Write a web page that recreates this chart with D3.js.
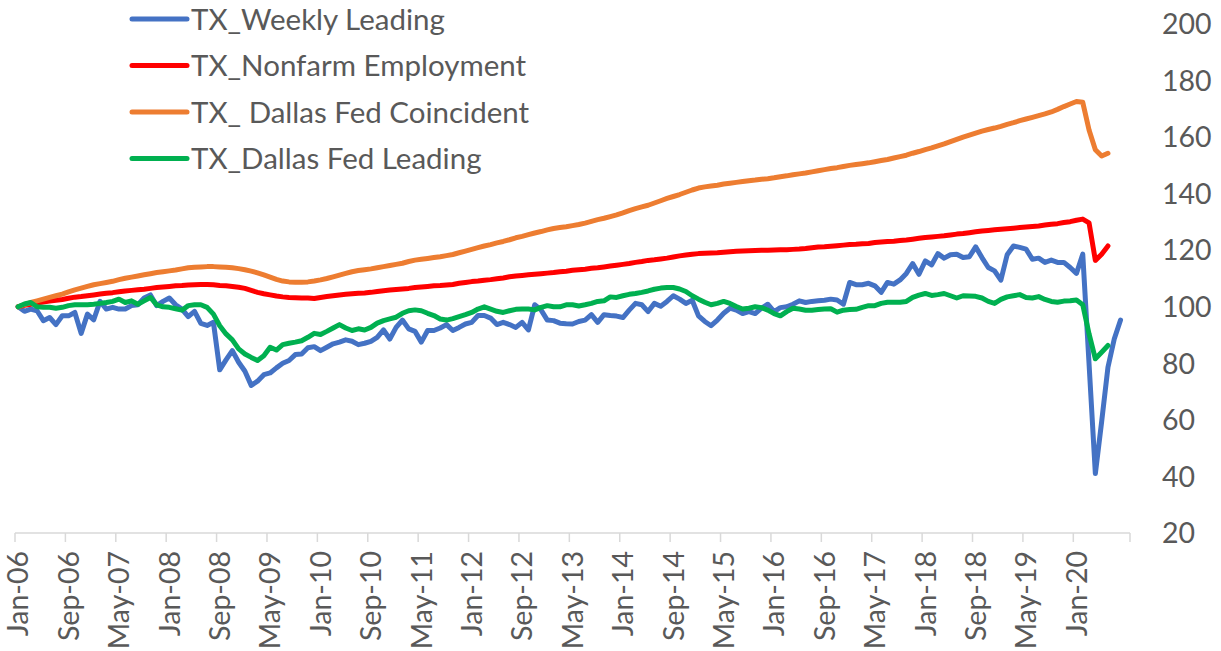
<!DOCTYPE html>
<html>
<head>
<meta charset="utf-8">
<script src="https://cdn.jsdelivr.net/npm/d3@7"></script>
<style>
  body { margin: 0; background: #fff; }
  text { font-family: Lato, "Open Sans", sans-serif; fill: #595959; }
</style>
</head>
<body>
<div id="lineChart"></div>
<script>
// data: monthly, Jan-06 .. Aug-20
var startMonth = new Date(2006, 0, 1);
var endMonth = new Date(2020, 8, 1);

var tickLabels = ["Jan-06", "Sep-06", "May-07", "Jan-08", "Sep-08", "May-09", "Jan-10", "Sep-10",
  "May-11", "Jan-12", "Sep-12", "May-13", "Jan-14", "Sep-14", "May-15", "Jan-16", "Sep-16",
  "May-17", "Jan-18", "Sep-18", "May-19", "Jan-20"];

var yTicks = [20, 40, 60, 80, 100, 120, 140, 160, 180, 200];

var seriesNames = ["TX_Weekly Leading", "TX_Nonfarm Employment", "TX_ Dallas Fed Coincident", "TX_Dallas Fed Leading"];
var seriesColors = ["#4472C4", "#FF0000", "#ED7D31", "#00B050"];

var weeklyLeading = [
  100.0, 98.4, 99.2, 98.6, 95.1, 96.2, 93.7, 96.8, 96.8, 98.0, 90.6, 97.4, 95.4, 101.9, 99.2, 99.8,
  99.2, 99.2, 100.4, 100.7, 103.1, 104.2, 100.4, 101.9, 103.1, 100.7, 99.2, 96.5, 98.4, 94.1, 93.4, 94.5,
  77.7, 81.2, 84.5, 80.4, 77.2, 72.2, 73.7, 76.0, 76.6, 78.4, 80.0, 81.0, 83.1, 83.3, 85.5, 85.9,
  84.5, 85.7, 86.9, 87.5, 88.3, 87.8, 86.6, 87.1, 87.8, 89.2, 91.8, 88.6, 92.7, 95.3, 92.2, 91.3,
  87.5, 91.6, 91.6, 92.5, 93.7, 91.6, 92.7, 93.9, 94.5, 96.9, 96.9, 96.0, 93.7, 94.5, 93.7, 92.7,
  94.5, 91.8, 100.7, 98.9, 95.3, 95.1, 94.2, 94.0, 93.9, 94.8, 95.3, 97.2, 94.5, 97.2, 96.9, 96.7,
  96.2, 98.8, 101.2, 100.7, 98.3, 101.2, 100.2, 101.9, 103.9, 102.7, 101.2, 102.3, 96.8, 94.8, 93.3, 95.3,
  97.7, 99.5, 98.8, 97.6, 98.3, 97.6, 99.5, 100.9, 98.3, 99.7, 100.0, 100.9, 102.1, 101.5, 101.9, 102.1,
  102.3, 102.7, 102.4, 100.9, 108.6, 107.8, 107.8, 108.3, 107.4, 105.1, 108.6, 108.0, 109.5, 111.8, 115.3, 111.5,
  116.2, 114.8, 118.8, 117.2, 118.4, 118.6, 117.4, 117.7, 121.2, 117.4, 113.9, 112.7, 109.4, 118.4, 121.5, 121.0,
  120.4, 116.8, 117.2, 115.7, 116.5, 115.7, 115.7, 113.9, 111.8, 118.6, 79.8, 41.0, 59.4, 78.6, 88.6, 95.3
];

var nonfarmEmployment = [
  100.0, 100.5, 100.9, 101.3, 101.7, 102.0, 102.3, 102.6, 103.0, 103.4, 103.6, 103.9, 104.2, 104.5, 104.8, 105.0,
  105.3, 105.6, 105.8, 106.0, 106.2, 106.5, 106.8, 107.0, 107.2, 107.4, 107.5, 107.7, 107.8, 107.9, 107.9, 107.8,
  107.5, 107.4, 107.2, 106.9, 106.5, 105.8, 105.1, 104.6, 104.2, 103.8, 103.5, 103.3, 103.2, 103.1, 103.1, 102.9,
  103.3, 103.6, 103.9, 104.2, 104.4, 104.6, 104.8, 104.9, 105.1, 105.4, 105.7, 105.9, 106.1, 106.3, 106.5, 106.8,
  107.0, 107.2, 107.4, 107.5, 107.7, 107.9, 108.3, 108.6, 108.9, 109.1, 109.4, 109.6, 109.9, 110.2, 110.6, 110.9,
  111.1, 111.3, 111.5, 111.7, 111.9, 112.1, 112.4, 112.6, 112.9, 113.1, 113.3, 113.6, 113.8, 114.1, 114.4, 114.7,
  115.0, 115.3, 115.7, 116.0, 116.4, 116.6, 116.9, 117.2, 117.6, 118.0, 118.3, 118.6, 118.8, 118.9, 119.0, 119.1,
  119.3, 119.5, 119.6, 119.7, 119.8, 119.9, 120.0, 120.0, 120.1, 120.2, 120.2, 120.3, 120.4, 120.6, 120.9, 121.1,
  121.2, 121.4, 121.6, 121.8, 122.0, 122.1, 122.3, 122.4, 122.7, 122.9, 123.1, 123.2, 123.4, 123.6, 123.9, 124.2,
  124.5, 124.7, 124.9, 125.1, 125.4, 125.7, 125.9, 126.2, 126.5, 126.8, 127.0, 127.2, 127.4, 127.6, 127.8, 128.0,
  128.2, 128.4, 128.6, 128.9, 129.2, 129.4, 129.8, 130.1, 130.6, 131.0, 129.7, 116.4, 118.6, 121.5
];

var dallasCoincident = [
  100.0, 100.8, 101.5, 102.1, 102.7, 103.3, 103.9, 104.5, 105.3, 106.0, 106.6, 107.2, 107.8, 108.2, 108.6, 109.0,
  109.6, 110.1, 110.5, 110.9, 111.3, 111.7, 112.1, 112.4, 112.7, 113.0, 113.4, 113.8, 114.0, 114.1, 114.2, 114.2,
  114.1, 114.0, 113.8, 113.5, 113.1, 112.6, 112.0, 111.3, 110.5, 109.7, 109.1, 108.8, 108.7, 108.7, 108.8, 109.1,
  109.5, 110.0, 110.6, 111.2, 111.8, 112.4, 112.8, 113.1, 113.4, 113.8, 114.2, 114.6, 115.0, 115.4, 116.0, 116.5,
  116.8, 117.1, 117.4, 117.7, 118.1, 118.5, 119.1, 119.7, 120.3, 120.9, 121.5, 122.0, 122.6, 123.1, 123.7, 124.4,
  124.9, 125.5, 126.1, 126.6, 127.2, 127.7, 128.0, 128.3, 128.7, 129.1, 129.6, 130.2, 130.8, 131.3, 131.9, 132.5,
  133.2, 134.0, 134.7, 135.3, 135.9, 136.7, 137.5, 138.3, 139.0, 139.7, 140.5, 141.3, 142.0, 142.4, 142.7, 143.0,
  143.4, 143.7, 144.0, 144.3, 144.6, 144.8, 145.1, 145.3, 145.6, 146.0, 146.3, 146.7, 147.0, 147.3, 147.7, 148.1,
  148.5, 148.9, 149.2, 149.6, 150.0, 150.3, 150.6, 150.9, 151.3, 151.7, 152.1, 152.6, 153.1, 153.6, 154.3, 154.9,
  155.6, 156.2, 156.9, 157.6, 158.4, 159.2, 160.0, 160.7, 161.4, 162.1, 162.7, 163.2, 163.8, 164.5, 165.1, 165.8,
  166.4, 167.0, 167.6, 168.2, 168.9, 169.8, 170.8, 171.7, 172.6, 172.3, 162.5, 155.5, 153.3, 154.3
];

var dallasLeading = [
  100.0, 101.0, 101.5, 100.0, 99.8, 99.8, 99.5, 99.8, 100.4, 100.7, 100.7, 100.7, 100.9, 101.2, 101.5, 101.9,
  102.7, 101.5, 102.1, 100.9, 102.1, 103.3, 100.7, 100.0, 99.8, 99.3, 98.8, 100.4, 100.7, 100.7, 99.8, 97.4,
  93.3, 90.4, 88.3, 85.1, 83.3, 82.1, 81.0, 82.7, 85.7, 84.7, 86.6, 87.1, 87.5, 88.0, 89.2, 90.6,
  90.2, 91.3, 92.5, 93.7, 92.5, 91.6, 92.2, 91.8, 92.7, 94.2, 95.1, 95.7, 96.3, 97.7, 98.6, 98.9,
  98.6, 97.7, 96.9, 95.7, 95.3, 95.8, 96.5, 97.2, 98.0, 99.2, 100.0, 99.2, 98.4, 98.0, 98.6, 99.1,
  99.2, 99.2, 98.9, 99.8, 100.4, 100.0, 100.0, 100.7, 100.7, 100.3, 100.7, 101.2, 101.9, 102.1, 103.5, 103.3,
  103.9, 104.4, 104.7, 105.1, 105.6, 106.2, 106.6, 106.8, 106.8, 106.3, 105.4, 103.9, 102.7, 101.6, 100.7, 101.2,
  101.9, 101.2, 100.1, 99.2, 99.5, 100.0, 99.7, 98.8, 97.6, 96.8, 98.3, 99.5, 99.2, 98.8, 98.8, 99.0,
  99.2, 99.3, 98.1, 98.8, 99.0, 99.1, 99.8, 100.4, 100.4, 101.2, 101.6, 101.6, 101.6, 101.9, 103.3, 104.1,
  104.7, 104.0, 104.3, 104.7, 103.9, 103.1, 103.9, 103.8, 103.7, 103.1, 101.9, 101.2, 102.6, 103.5, 103.9, 104.3,
  103.3, 103.1, 103.6, 102.6, 101.9, 101.6, 102.0, 102.1, 102.4, 100.7, 90.4, 81.6, 83.9, 86.3
];

var seriesValues = [weeklyLeading, nonfarmEmployment, dallasCoincident, dallasLeading];

// svg
var width = 1221;
var height = 651;

var svg = d3
  .select("#lineChart")
  .append("svg")
  .attr("width", width)
  .attr("height", height);

// scales
var months = d3.timeMonths(startMonth, d3.timeMonth.offset(endMonth, 1));
var fmt = d3.timeFormat("%b-%y");
var categories = months.map(fmt);

var xScale = d3
  .scaleBand()
  .domain(categories)
  .range([15, 1130]);

var yScale = d3.scaleLinear().domain([20, 200]).range([533, 24]);

function xMid(i) {
  return xScale(categories[i]) + xScale.bandwidth() / 2;
}

// x axis: line, tick marks at category edges every 8 months, labels centred
var tickIdx = tickLabels.map(function(t) {
  return categories.indexOf(t);
});

var xAxisGroup = svg.append("g").attr("class", "x axis");

xAxisGroup
  .append("line")
  .attr("x1", xScale.range()[0])
  .attr("x2", xScale.range()[1])
  .attr("y1", yScale(20))
  .attr("y2", yScale(20))
  .style("stroke", "#d9d9d9")
  .style("stroke-width", 1.5);

var tickEdges = tickIdx
  .map(function(i) {
    return xScale(categories[i]);
  })
  .concat([xScale.range()[1]]);

xAxisGroup
  .selectAll(".tick")
  .data(tickEdges)
  .enter()
  .append("line")
  .attr("class", "tick")
  .attr("x1", function(d) { return d; })
  .attr("x2", function(d) { return d; })
  .attr("y1", yScale(20))
  .attr("y2", yScale(20) + 9)
  .style("stroke", "#d9d9d9")
  .style("stroke-width", 1.5);

xAxisGroup
  .selectAll(".xlabel")
  .data(tickIdx)
  .enter()
  .append("text")
  .attr("class", "xlabel")
  .attr("transform", function(i) {
    return "translate(" + xMid(i) + "," + (yScale(20) + 18) + ") rotate(-90)";
  })
  .attr("dy", "0.36em")
  .style("text-anchor", "end")
  .style("font-size", "28.5px")
  .text(function(i) {
    return categories[i];
  });

// y axis labels on the right, no line
svg
  .append("g")
  .attr("class", "y axis")
  .selectAll("text")
  .data(yTicks)
  .enter()
  .append("text")
  .attr("x", 1162)
  .attr("y", function(d) { return yScale(d); })
  .attr("dy", "0.36em")
  .style("font-size", "28.5px")
  .text(function(d) { return d; });

// lines
var line = d3
  .line()
  .x(function(d, i) { return xMid(i); })
  .y(function(d) { return yScale(d); });

svg
  .selectAll(".series")
  .data(seriesValues)
  .enter()
  .append("path")
  .attr("class", "series")
  .attr("d", line)
  .style("fill", "none")
  .style("stroke", function(d, i) { return seriesColors[i]; })
  .style("stroke-width", 5)
  .style("stroke-linejoin", "round")
  .style("stroke-linecap", "round");

// legend
var legend = svg
  .selectAll(".legend")
  .data(seriesNames)
  .enter()
  .append("g")
  .attr("class", "legend")
  .attr("transform", function(d, i) {
    return "translate(132," + (19 + i * 46.5) + ")";
  });

legend
  .append("line")
  .attr("x1", 0)
  .attr("x2", 55)
  .style("stroke", function(d, i) { return seriesColors[i]; })
  .style("stroke-width", 5)
  .style("stroke-linecap", "round");

legend
  .append("text")
  .attr("x", 59)
  .attr("dy", "0.36em")
  .style("font-size", "29.5px")
  .text(function(d) { return d; });
</script>
</body>
</html>
